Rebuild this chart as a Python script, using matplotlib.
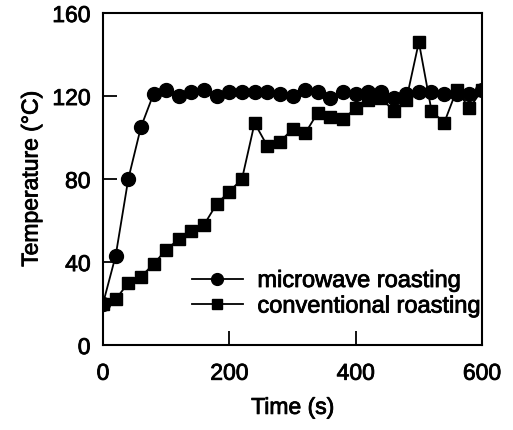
import matplotlib
matplotlib.use("Agg")
import matplotlib.pyplot as plt
import matplotlib.patheffects as pe

plt.rcParams['font.family'] = ['Liberation Sans', 'DejaVu Sans']

time_mw = [0, 20, 40, 60, 80, 100, 120, 140, 160, 180, 200, 220, 240, 260, 280, 300,
           320, 340, 360, 380, 400, 420, 440, 460, 480, 500, 520, 540, 560, 580, 600]
temp_mw = [20, 43, 80, 105, 121, 123, 120, 122, 123, 120, 122, 122, 122, 122, 121, 120,
           123, 122, 119, 122, 121, 122, 122, 119, 121, 122, 122, 121, 121, 121, 123]

time_cv = [0, 20, 40, 60, 80, 100, 120, 140, 160, 180, 200, 220, 240, 260, 280, 300,
           320, 340, 360, 380, 400, 420, 440, 460, 480, 500, 520, 540, 560, 580, 600]
temp_cv = [20, 22, 30, 33, 39, 46, 51, 55, 58, 68, 74, 80, 107, 96, 98, 104,
           102, 112, 110, 109, 114, 118, 119, 113, 118, 146, 113, 107, 123, 114, 123]

xticks = [0, 200, 400, 600]
yticks = [0, 40, 80, 120, 160]

FS = 16.5
heavy = [pe.withStroke(linewidth=0.6, foreground='black')]

fig = plt.figure(figsize=(5.13, 4.31), dpi=100)
ax = fig.add_axes([0.2008, 0.197, 0.7388, 0.7705])

ax.plot(time_mw, temp_mw, '-o', color='black', lw=1.3, ms=10,
        label='microwave roasting', zorder=3)
ax.plot(time_cv, temp_cv, '-s', color='black', lw=1.3, ms=9,
        label='conventional roasting', zorder=2)

ax.set_xlim(0, 600)
ax.set_ylim(0, 160)
ax.set_xticks(xticks)
ax.set_yticks(yticks)
ax.tick_params(direction='in', length=10, width=1.3, labelsize=FS,
               top=False, right=False)
ax.tick_params(axis='y', pad=9)
ax.tick_params(axis='x', pad=12)
for lab in ax.get_xticklabels() + ax.get_yticklabels():
    lab.set_path_effects(heavy)
for s in ax.spines.values():
    s.set_linewidth(1.5)

ax.set_xlabel('Time (s)', fontsize=FS, labelpad=8, path_effects=heavy)
ax.set_ylabel('Temperature (°C)', fontsize=FS, labelpad=7, path_effects=heavy)

leg = ax.legend(loc='upper left', frameon=False, fontsize=17, handlelength=2.15,
                handletextpad=0.62, borderpad=0, borderaxespad=0, labelspacing=0.15,
                markerscale=0.85,
                bbox_to_anchor=(192 / 513, 1 - 271 / 431),
                bbox_transform=fig.transFigure)
for t in leg.get_texts():
    t.set_path_effects(heavy)

fig.savefig('out.png', dpi=100)
